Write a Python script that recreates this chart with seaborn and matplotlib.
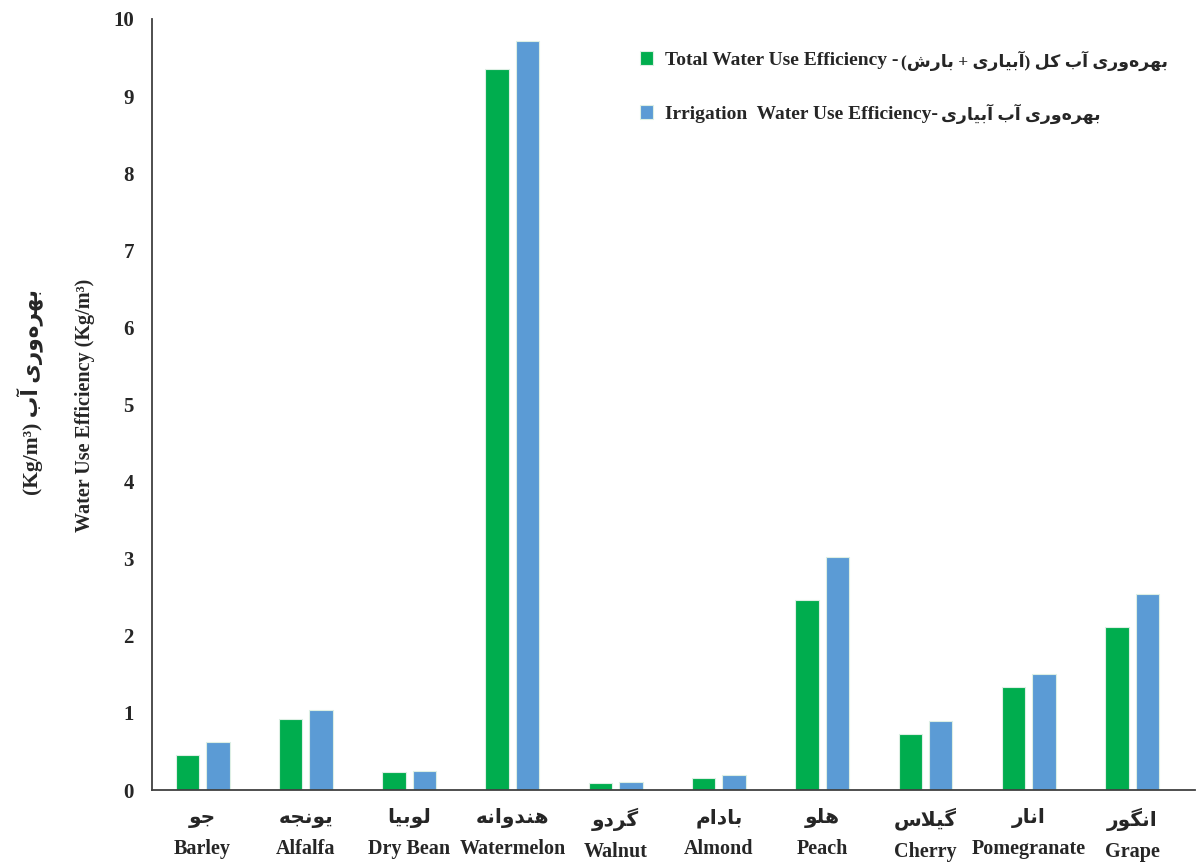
import matplotlib
matplotlib.use("Agg")
import matplotlib.pyplot as plt
import seaborn as sns
import pandas as pd

# ---------------- data ----------------
crops_en = ["Barley", "Alfalfa", "Dry Bean", "Watermelon", "Walnut",
            "Almond", "Peach", "Cherry", "Pomegranate", "Grape"]
crops_fa = ["جو", "یونجه", "لوبیا", "هندوانه", "گردو",
            "بادام", "هلو", "گیلاس", "انار", "انگور"]
total_wue = [0.45, 0.92, 0.23, 9.35, 0.09, 0.16, 2.47, 0.73, 1.34, 2.11]
irrigation_wue = [0.62, 1.04, 0.25, 9.71, 0.11, 0.19, 3.02, 0.90, 1.50, 2.54]
yticks = [0, 1, 2, 3, 4, 5, 6, 7, 8, 9, 10]
legend_en = ["Total Water Use Efficiency -", "Irrigation  Water Use Efficiency-"]
legend_fa = ["بهره\u200cوری آب کل (آبیاری + بارش)", "بهره\u200cوری آب آبیاری"]

# ---------------- simple Persian shaping (no bidi engine in matplotlib) ----------------
FORMS = {  # isolated, final, initial, medial
    '\u0627': ('\uFE8D', '\uFE8E', None, None),
    '\u0622': ('\uFE81', '\uFE82', None, None),
    '\u0628': ('\uFE8F', '\uFE90', '\uFE91', '\uFE92'),
    '\u067E': ('\uFB56', '\uFB57', '\uFB58', '\uFB59'),
    '\u062A': ('\uFE95', '\uFE96', '\uFE97', '\uFE98'),
    '\u062C': ('\uFE9D', '\uFE9E', '\uFE9F', '\uFEA0'),
    '\u062F': ('\uFEA9', '\uFEAA', None, None),
    '\u0631': ('\uFEAD', '\uFEAE', None, None),
    '\u0632': ('\uFEAF', '\uFEB0', None, None),
    '\u0633': ('\uFEB1', '\uFEB2', '\uFEB3', '\uFEB4'),
    '\u0634': ('\uFEB5', '\uFEB6', '\uFEB7', '\uFEB8'),
    '\u06A9': ('\uFB8E', '\uFB8F', '\uFB90', '\uFB91'),
    '\u06AF': ('\uFB92', '\uFB93', '\uFB94', '\uFB95'),
    '\u0644': ('\uFEDD', '\uFEDE', '\uFEDF', '\uFEE0'),
    '\u0645': ('\uFEE1', '\uFEE2', '\uFEE3', '\uFEE4'),
    '\u0646': ('\uFEE5', '\uFEE6', '\uFEE7', '\uFEE8'),
    '\u0648': ('\uFEED', '\uFEEE', None, None),
    '\u0647': ('\uFEE9', '\uFEEA', '\uFEEB', '\uFEEC'),
    '\u06CC': ('\uFBFC', '\uFBFD', '\uFBFE', '\uFBFF'),
}
LAMALEF = {'\u0627': ('\uFEFB', '\uFEFC'), '\u0622': ('\uFEF5', '\uFEF6')}
MIRROR = {'(': ')', ')': '('}


def _dual(c):
    return c in FORMS and FORMS[c][2] is not None


def rtl(s):
    chars = list(s)
    out = []
    i = 0
    while i < len(chars):
        c = chars[i]
        prev = chars[i - 1] if i > 0 else None
        nxt = chars[i + 1] if i + 1 < len(chars) else None
        if c not in FORMS:
            if c != '\u200c':
                out.append(MIRROR.get(c, c))
            i += 1
            continue
        jp = _dual(prev)
        if c == '\u0644' and nxt in LAMALEF:
            out.append(LAMALEF[nxt][1 if jp else 0])
            i += 2
            continue
        jn = _dual(c) and (nxt in FORMS)
        iso, fin, ini, med = FORMS[c]
        if jp and jn:
            f = med
        elif jp:
            f = fin
        elif jn:
            f = ini
        else:
            f = iso
        out.append(f)
        i += 1
    return "".join(reversed(out))


# ---------------- frame ----------------
series_total = "Total"
series_irr = "Irrigation"
df = pd.DataFrame({
    "crop": crops_en * 2,
    "series": [series_total] * len(crops_en) + [series_irr] * len(crops_en),
    "value": total_wue + irrigation_wue,
})

sns.set_theme(style="white")
FAM = ["Liberation Serif", "DejaVu Sans"]
plt.rcParams["font.family"] = FAM
plt.rcParams["font.weight"] = "bold"

W, H = 1204, 864
fig = plt.figure(figsize=(W / 100, H / 100), dpi=100)
ax = fig.add_axes([152 / W, 1 - 790 / H, (1195 - 152) / W, (790 - 19) / H])

sns.barplot(data=df, x="crop", y="value", hue="series", order=crops_en,
            hue_order=[series_total, series_irr],
            palette={series_total: "#00AD4E", series_irr: "#5B9BD5"},
            saturation=1, width=0.59, gap=0.23, edgecolor="#DDEFE4", linewidth=0.8,
            errorbar=None, ax=ax)

ax.set_xlim(-0.49, 9.61)
ax.set_ylim(0, 10)
ax.set_yticks(yticks)
ax.set_yticklabels([str(t) for t in yticks], fontsize=15, fontweight="bold",
                   family=FAM)
ax.set_xticks(range(len(crops_en)))
ax.set_xticklabels([rtl(fa) + "\n" + en for fa, en in zip(crops_fa, crops_en)],
                   fontsize=14.5, fontweight="bold", family=FAM, linespacing=1.75)
ax.tick_params(axis="both", length=0)
ax.tick_params(axis="y", pad=13)
ax.tick_params(axis="x", pad=13)
ax.set_xlabel("")
ax.set_ylabel("")

for side in ["top", "right"]:
    ax.spines[side].set_visible(False)
for side in ["left", "bottom"]:
    ax.spines[side].set_color("#404040")
    ax.spines[side].set_linewidth(1.3)

ax.grid(False)

# y labels
fig.text(85 / W, 1 - 405 / H, "Water Use Efficiency (Kg/m³)", rotation=90,
         ha="center", va="center", fontsize=14.5, fontweight="bold", family=FAM)
fig.text(30 / W, 1 - 392 / H, "(Kg/m³) " + rtl("بهره\u200cوری آب"), rotation=90,
         ha="center", va="center", fontsize=15.5, fontweight="bold", family=FAM)

# legend: English part in the legend, Persian part appended right after it
handles, _ = ax.get_legend_handles_labels()
leg = ax.legend(handles, legend_en, loc="upper left",
                bbox_to_anchor=(622 / W, 1 - 34 / H), bbox_transform=fig.transFigure,
                frameon=False, handlelength=0.7, handleheight=0.7, handletextpad=0.6,
                labelspacing=1.85, prop={"family": FAM, "weight": "bold", "size": 14})

fig.canvas.draw()
renderer = fig.canvas.get_renderer()
for txt, fa in zip(leg.get_texts(), legend_fa):
    bb = txt.get_window_extent(renderer)
    fig.text((bb.x1 + 3) / W, (bb.y0 + bb.y1) / 2 / H, rtl(fa), ha="left", va="center",
             fontsize=12.5, fontweight="bold", family=FAM)

fig.savefig("out.png", dpi=100)
